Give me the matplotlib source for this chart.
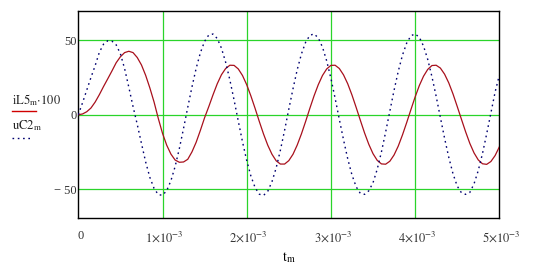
import matplotlib
matplotlib.use("Agg")
import matplotlib.pyplot as plt
from matplotlib.lines import Line2D
from matplotlib.transforms import ScaledTranslation

# time samples in ms (every 0.05 ms, 0..5 ms)
t_ms = [i * 0.05 for i in range(101)]

# iL5_m*100
iL5 = [
    0.0, 0.5, 2.0, 4.5, 8.5, 13.5, 19.0, 24.2, 29.5, 35.0,
    39.0, 41.8, 42.7, 41.8, 38.5, 33.5, 26.5, 18.0, 8.5, -2.5,
    -12.5, -20.5, -26.5, -30.5, -32.0, -31.8, -30.0, -25.0, -18.5, -10.5,
    -2.0, 5.5, 13.4, 20.8, 26.9, 31.1, 33.3, 33.2, 30.8, 26.4,
    20.2, 12.6, 4.2, -4.6, -13.0, -20.5, -26.6, -31.0, -33.2, -33.2,
    -30.9, -26.6, -20.4, -12.9, -4.5, 4.3, 12.7, 20.2, 26.4, 30.8,
    33.2, 33.3, 31.1, 26.8, 20.8, 13.3, 4.9, -3.8, -12.3, -19.9,
    -26.2, -30.7, -33.1, -33.3, -31.3, -27.1, -21.1, -13.6, -5.3, 3.4,
    11.9, 19.6, 25.9, 30.5, 33.1, 33.3, 31.4, 27.3, 21.4, 14.0,
    5.6, -3.0, -11.5, -19.3, -25.7, -30.4, -33.0, -33.4, -31.5, -27.5,
    -21.7,
]

# uC2_m
uC2 = [
    0.0, 8.0, 16.5, 25.0, 33.0, 42.0, 47.5, 49.8, 49.5, 47.0,
    41.0, 31.0, 18.5, 5.5, -6.5, -19.3, -31.8, -42.2, -49.6, -53.8,
    -54.2, -51.1, -44.4, -34.8, -22.8, -9.2, 5.0, 18.7, 31.3, 41.7,
    49.4, 53.7, 54.3, 51.3, 44.8, 35.3, 23.4, 9.9, -4.3, -18.2,
    -30.8, -41.3, -49.1, -53.5, -54.3, -51.5, -45.1, -35.8, -23.9, -10.5,
    3.7, 17.5, 30.3, 40.9, 48.8, 53.4, 54.4, 51.7, 45.5, 36.2,
    24.5, 11.1, -3.1, -16.9, -29.7, -40.5, -48.5, -53.0, -53.6, -51.2,
    -45.8, -36.7, -25.1, -11.7, 2.4, 16.4, 29.2, 40.1, 48.2, 53.1,
    54.4, 52.1, 46.2, 37.2, 25.6, 12.4, -1.8, -15.8, -28.7, -39.7,
    -48.0, -52.5, -53.6, -52.3, -46.5, -37.6, -26.2, -12.9, 1.1, 15.2,
    26.5,
]

t = [v * 1e-3 for v in t_ms]

x_ticks = [0, 1e-3, 2e-3, 3e-3, 4e-3, 5e-3]
x_labels = ["0", r"$1{\times}10^{-3}$", r"$2{\times}10^{-3}$",
            r"$3{\times}10^{-3}$", r"$4{\times}10^{-3}$", r"$5{\times}10^{-3}$"]
y_ticks = [-50, 0, 50]
y_labels = ["\u2212 50", "0", "50"]

plt.rcParams["font.family"] = ["Liberation Serif", "DejaVu Serif"]
plt.rcParams["mathtext.fontset"] = "stix"

W, H = 535, 269
fig = plt.figure(figsize=(W / 100, H / 100), dpi=100)
fig.patch.set_facecolor("white")
ax = fig.add_axes([78.3 / W, 1 - 217.7 / H, 421 / W, 207 / H])

red = "#a8101c"
blue = "#000070"
green = "#2ad42a"

for gx in x_ticks[1:-1]:
    ax.axvline(gx, color=green, lw=0.9, zorder=1)
for gy in y_ticks:
    ax.axhline(gy, color=green, lw=0.9, zorder=1)

ax.plot(t, iL5, color=red, lw=0.9, zorder=3)
ax.plot(t, uC2, color=blue, lw=1.0, ls=(0, (1.2, 2.6)), zorder=3)

ax.set_xlim(0, 5e-3)
ax.set_ylim(-69.3, 70)
ax.set_xticks(x_ticks)
ax.set_xticklabels(x_labels, fontsize=9)
ax.set_yticks(y_ticks)
ax.set_yticklabels(y_labels, fontsize=9)
ax.tick_params(axis="both", length=0, colors="#333333")
ax.tick_params(axis="x", pad=9)
ax.tick_params(axis="y", pad=1)
for lab in ax.get_xticklabels():
    lab.set_transform(lab.get_transform() + ScaledTranslation(0.02, 0, fig.dpi_scale_trans))
for s in ax.spines.values():
    s.set_color("black")
    s.set_linewidth(1.0)

ax.set_xlabel(r"$\mathrm{t}_{\mathrm{m}}$", fontsize=10, labelpad=4)

# legend-style y label on the left
fig.text(11.7 / W, 1 - 104 / H, r"$\mathrm{iL5}_{\mathrm{m}}{\cdot}100$", fontsize=9,
         ha="left", va="baseline", color="#222222")
fig.add_artist(Line2D([11.7 / W, 35.7 / W], [1 - 111 / H, 1 - 111 / H],
                      color="#d00000", lw=1.0))
fig.text(11.7 / W, 1 - 129 / H, r"$\mathrm{uC2}_{\mathrm{m}}$", fontsize=9,
         ha="left", va="baseline", color="#222222")
fig.add_artist(Line2D([11.7 / W, 31.7 / W], [1 - 137.7 / H, 1 - 137.7 / H],
                      color=blue, lw=1.0, ls=(0, (1.2, 2.6))))

fig.savefig("out.png", dpi=100, facecolor="white")
